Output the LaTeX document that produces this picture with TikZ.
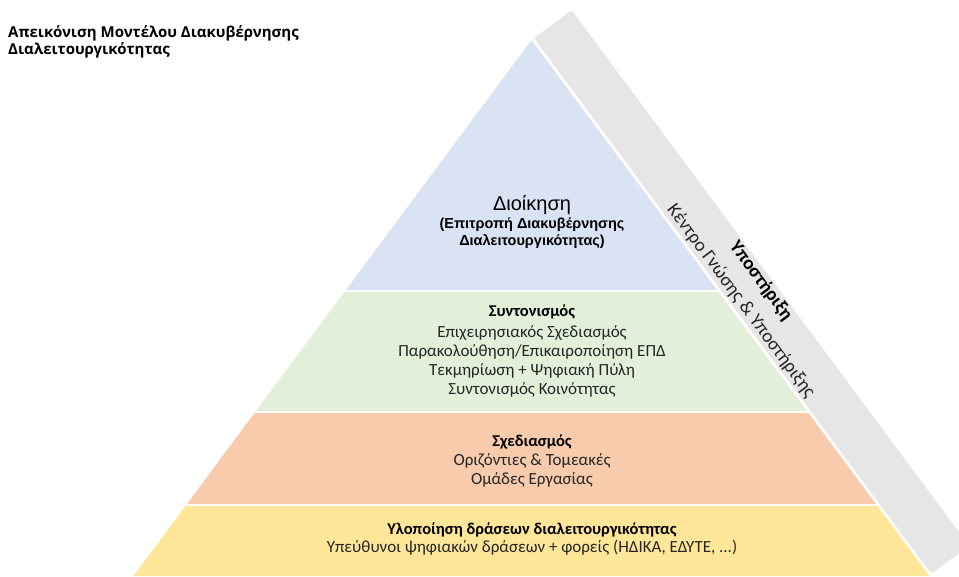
\documentclass[tikz,border=0pt]{standalone}
\usepackage{fontspec}
\setmainfont{Carlito}
\newfontfamily\arialfont{Liberation Sans}
\newfontfamily\titlefont{Open Sans}

\definecolor{govblue}{HTML}{DAE3F3}
\definecolor{coordgreen}{HTML}{E2F0D9}
\definecolor{planorange}{HTML}{F8CBAD}
\definecolor{implyellow}{HTML}{FFE699}
\definecolor{supportgray}{HTML}{E6E6E6}
\definecolor{textdark}{HTML}{262626}

\tikzset{
    layerhead/.style={font=\fontsize{16.5}{19}\selectfont\bfseries, text=black, inner sep=0pt},
    layerbody/.style={font=\fontsize{17}{19}\selectfont, text=textdark, align=center, inner sep=0pt},
    govtext/.style={font=\arialfont\fontsize{14.5}{17}\selectfont\bfseries, text=black, align=center, inner sep=0pt},
}

\begin{document}
\begin{tikzpicture}[x=1pt,y=-1pt]
            \useasboundingbox (0,0) rectangle (959,576);
            \clip (0,0) rectangle (959,576);

            % Support band along the right side
            \fill[supportgray, rounded corners=3pt] (533.9,38.2) -- (571.7,10.2) -- (969.1,545.8) -- (931.4,573.8) -- cycle;

            % Pyramid layers
            \fill[govblue] (531.5,40) -- (717.1,290) -- (345.9,290) -- cycle;
            \fill[coordgreen] (344.4,292) -- (718.6,292) -- (807.0,411) -- (256.0,411) -- cycle;
            \fill[planorange] (254.5,413) -- (808.5,413) -- (876.0,504) -- (187.0,504) -- cycle;
            \fill[implyellow] (185.5,506) -- (877.5,506) -- (929.5,576) -- (133.5,576) -- cycle;

            % Title
            \node[anchor=west, align=left, inner sep=0pt, font=\titlefont\fontsize{15}{17}\selectfont\bfseries] (title) at (8,41.5)
                {Απεικόνιση Μοντέλου Διακυβέρνησης\\Διαλειτουργικότητας};

            % Layer texts
            \node[govtext, font=\arialfont\fontsize{20}{20}\selectfont] (govhead) at (532,205) {Διοίκηση};
            \node[govtext] (govbody) at (532,233) {(Επιτροπή Διακυβέρνησης\\Διαλειτουργικότητας)};

            \node[layerhead] (coordhead) at (532,312) {Συντονισμός};
            \node[layerbody] (coordbody) at (532,361.5) {Επιχειρησιακός Σχεδιασμός\\Παρακολούθηση/Επικαιροποίηση ΕΠΔ\\Τεκμηρίωση + Ψηφιακή Πύλη\\Συντονισμός Κοινότητας};

            \node[layerhead] (planhead) at (532,442) {Σχεδιασμός};
            \node[layerbody] (planbody) at (532,470.5) {Οριζόντιες \& Τομεακές\\Ομάδες Εργασίας};

            \node[layerhead] (implhead) at (532,530) {Υλοποίηση δράσεων διαλειτουργικότητας};
            \node[layerbody] (implbody) at (532,548) {Υπεύθυνοι ψηφιακών δράσεων + φορείς (ΗΔΙΚΑ, ΕΔΥΤΕ, ...)};

            % Support texts
            \node[layerhead, font=\fontsize{19}{19}\selectfont\bfseries, rotate=-53.4] (supporthead) at (761,281) {Υποστήριξη};
            \node[layerbody, font=\fontsize{19}{19}\selectfont, rotate=-53.4] (supportbody) at (741,301) {Κέντρο Γνώσης \& Υποστήριξης};
\end{tikzpicture}
\end{document}
